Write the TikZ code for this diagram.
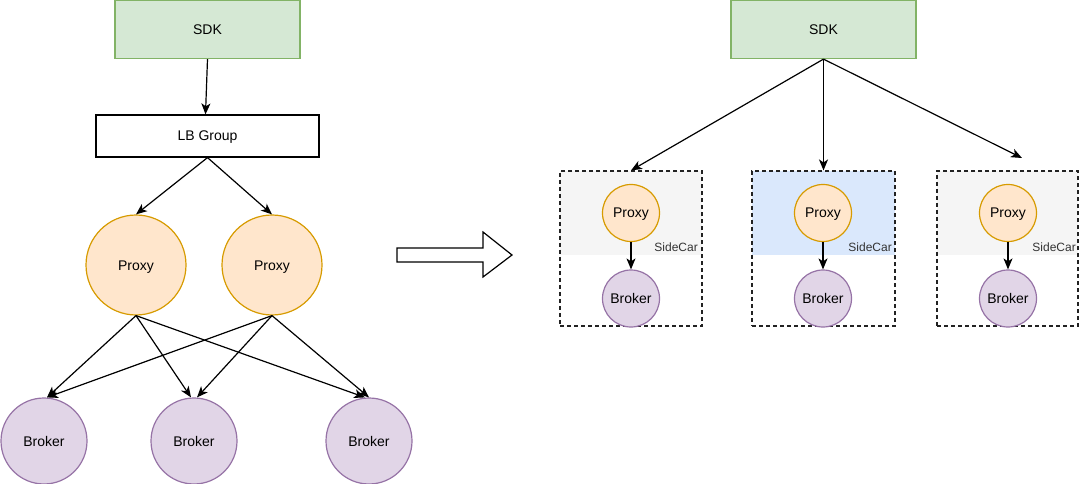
\documentclass[tikz,border=0pt]{standalone}
\usepackage{fontspec}
\setmainfont{Liberation Sans}
\usetikzlibrary{arrows.meta}
\definecolor{gfill}{HTML}{D5E8D4}
\definecolor{gline}{HTML}{82B366}
\definecolor{pfill}{HTML}{FFE6CC}
\definecolor{pline}{HTML}{D79B00}
\definecolor{bfill}{HTML}{E1D5E7}
\definecolor{bline}{HTML}{9673A6}
\definecolor{grayfill}{HTML}{F5F5F5}
\definecolor{bluefill}{HTML}{DAE8FC}
\definecolor{sctext}{HTML}{333333}
\definecolor{dashc}{HTML}{222222}
\tikzset{
  lbl/.style={font=\fontsize{14}{16}\selectfont, text height=10pt, text depth=0pt},
  sdkbox/.style={draw=gline, fill=gfill, line width=1.2pt, minimum width=185pt, minimum height=58pt, inner sep=0pt, lbl},
  lbbox/.style={draw=black, fill=white, line width=1.2pt, minimum width=223pt, minimum height=42pt, inner sep=0pt, lbl},
  proxybig/.style={circle, draw=pline, fill=pfill, line width=1.2pt, minimum size=100pt, inner sep=0pt, lbl},
  brokerbig/.style={circle, draw=bline, fill=bfill, line width=1.2pt, minimum size=86pt, inner sep=0pt, lbl},
  proxysm/.style={circle, draw=pline, fill=pfill, line width=1.2pt, minimum size=57pt, inner sep=0pt, lbl},
  brokersm/.style={circle, draw=bline, fill=bfill, line width=1.2pt, minimum size=57pt, inner sep=0pt, lbl},
  scbox/.style={draw=dashc, dash pattern=on 4pt off 3pt, line width=1.1pt, minimum height=155pt, inner sep=0pt},
  sclbl/.style={anchor=east, text=sctext, font=\fontsize{12}{14}\selectfont, inner sep=0pt},
  conn/.style={draw=black, line width=1.2pt, -{Stealth[length=11pt, width=9pt, inset=3pt]}},
}
\begin{document}
\begin{tikzpicture}[x=1pt, y=-1pt]
\useasboundingbox (0,0) rectangle (1080,484);
% ---------- left ----------
\node[sdkbox] (sdkL) at (207.5,29.5) {SDK};
\node[lbbox] (lb) at (207.5,136) {LB Group};
\node[proxybig] (p1) at (136,265) {Proxy};
\node[proxybig] (p2) at (272,265) {Proxy};
\node[brokerbig] (b1) at (44,441) {Broker};
\node[brokerbig] (b2) at (194,441) {Broker};
\node[brokerbig] (b3) at (369,441) {Broker};
\draw[conn] (sdkL.south) -- ([xshift=-2pt]lb.north);
\draw[conn] (lb.south) -- (p1.north);
\draw[conn] (lb.south) -- (p2.north);
\draw[conn] (p1.south) -- ([xshift=3pt]b1.north);
\draw[conn] (p1.south) -- ([xshift=-3pt]b2.north);
\draw[conn] (p1.south) -- ([xshift=-4pt]b3.north);
\draw[conn] (p2.south) -- ([xshift=3pt]b1.north);
\draw[conn] (p2.south) -- ([xshift=3pt]b2.north);
\draw[conn] (p2.south) -- ([xshift=0pt]b3.north);
% ---------- big arrow ----------
\draw[line width=1.2pt, fill=white] (397,248) -- (483,248) -- (483,232) -- (512,255) -- (483,277) -- (483,262) -- (397,262) -- cycle;
% ---------- right ----------
\node[sdkbox] (sdkR) at (823.5,29.5) {SDK};
\fill[grayfill] (560,171) rectangle (702,255);
\fill[bluefill] (752,171) rectangle (895,255);
\fill[grayfill] (937,171) rectangle (1078,255);
\node[scbox, minimum width=142pt] (box1) at (631,248.5) {};
\node[scbox, minimum width=143pt] (box2) at (823.5,248.5) {};
\node[scbox, minimum width=141pt] (box3) at (1007.5,248.5) {};
\node[sclbl] (sc1) at (698,247) {SideCar};
\node[sclbl] (sc2) at (892,247) {SideCar};
\node[sclbl] (sc3) at (1076,247) {SideCar};
\node[proxysm] (sp1) at (631,213) {Proxy};
\node[proxysm] (sp2) at (823,213) {Proxy};
\node[proxysm] (sp3) at (1008,213) {Proxy};
\node[brokersm] (sb1) at (631,298.5) {Broker};
\node[brokersm] (sb2) at (823,298.5) {Broker};
\node[brokersm] (sb3) at (1008,298.5) {Broker};
\coordinate (t3) at (1022,158);
\draw[conn] (sdkR.south) -- (box1.north);
\draw[conn] (sdkR.south) -- (box2.north);
\draw[conn] (sdkR.south) -- (t3);
\draw[conn] (sp1) -- (sb1);
\draw[conn] (sp2) -- (sb2);
\draw[conn] (sp3) -- (sb3);
\end{tikzpicture}
\end{document}
